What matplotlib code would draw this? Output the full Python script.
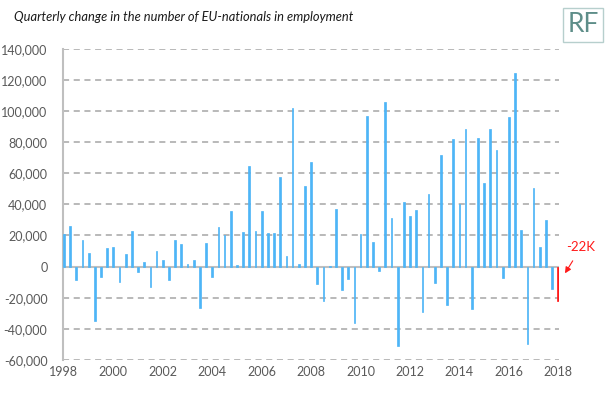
import numpy as np
import matplotlib
matplotlib.use("Agg")
import matplotlib.pyplot as plt

plt.rcParams["font.family"] = ["Lato", "DejaVu Sans"]

# quarterly change, 1998 Q1 .. 2018 Q1 (last one highlighted)
changes = [21000, 26000, -8800, 17000, 8600, -35000, -6900, 12000, 12900, -9600,
           8100, 22700, -3400, 3000, -12900, 10300, 4500, -8800, 17400, 14400,
           1500, 4500, -26400, 15400, -6600, 25300, 20000, 36000, 1300, 22300,
           64700, 23100, 35600, 21900, 21400, 57400, 6900, 102200, 1700, 51700,
           67000, -10900, -22000, 500, 36700, -14800, -7900, -36200, 21000, 96700,
           16000, -2800, 105500, 31300, -51000, 41800, 32600, 36200, -29200, 46500,
           -10500, 71600, -24700, 82300, 40300, 88500, -27200, 82700, 54000, 88500,
           75000, -7300, 96000, 124500, 23400, -49700, 50200, 12600, 30200, -14400,
           -22300]
start_year = 1998
year_ticks = list(range(1998, 2019, 2))
y_ticks = list(range(-60000, 140001, 20000))
title = "Quarterly change in the number of EU-nationals in employment"
last_label = "-22K"

x = start_year + np.arange(len(changes)) / 4
colors = ["#4DB5F7"] * (len(changes) - 1) + ["#FF1A1A"]

fig = plt.figure(figsize=(6.05, 3.95), dpi=100)
ax = fig.add_axes([0.1036, 0.0886, 0.8209, 0.7881])

ax.bar(x, changes, width=0.07, color=colors, edgecolor=colors, linewidth=0.5, zorder=3)

ax.set_xlim(start_year - 0.05, x[-1] + 0.04)
ax.set_ylim(-60000, 140000)
ax.set_yticks(y_ticks)
ax.set_yticklabels([f"{v:,}" for v in y_ticks])
ax.set_xticks(year_ticks)
ax.set_xticklabels([str(y) for y in year_ticks])

ax.grid(axis="y", color="#a6a6a6", linestyle=(0, (4, 3)), linewidth=1.1, zorder=0)
ax.axhline(0, color="#bfbfbf", linewidth=1.5, zorder=2)
for s in ["top", "right", "bottom"]:
    ax.spines[s].set_visible(False)
ax.spines["left"].set_color("#bfbfbf")
ax.spines["left"].set_linewidth(1.5)
ax.tick_params(length=0, labelsize=9, colors="#595959", pad=4)
ax.tick_params(axis="y", pad=11)

fig.text(0.023, 0.957, title, fontsize=9.3, style="italic", color="#1a1a1a", va="center")

# RF logo box
fig.text(0.9636, 0.937, "RF", fontsize=19, color="#5E8E89", ha="center", va="center",
         bbox=dict(boxstyle="square,pad=0.18", fc="white", ec="#B7CFCD", lw=1))

ax.annotate(last_label, xy=(x[-1] + 0.27, -4300), xytext=(x[-1] + 0.92, 12400),
            color="#FF1A1A", fontsize=9.5, ha="center", va="center",
            annotation_clip=False,
            arrowprops=dict(arrowstyle="-|>", color="#FF1A1A", lw=0.8,
                            shrinkA=4, shrinkB=0, mutation_scale=9))

fig.savefig("out.png", dpi=100)
